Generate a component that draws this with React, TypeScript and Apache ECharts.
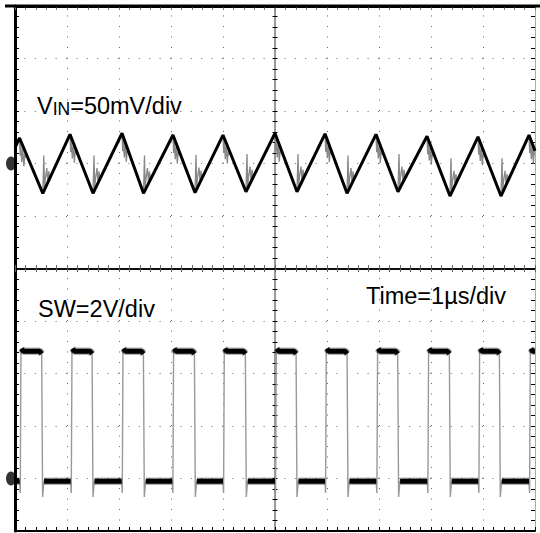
import React, { useEffect, useRef } from 'react';
import * as echarts from 'echarts';

const vinScaleMvPerDiv = 50;
const vinOffsetDiv = 2;
const swScaleVPerDiv = 2;
const swOffsetDiv = -4;

// Time in µs relative to the screen centre (trigger), 1 µs/div
// VIN ripple: peak / valley vertices (mV relative to channel ground)
const vinPeakT = [-4.913, -3.942, -2.942, -1.962, -1.0, 0.0, 0.962, 1.942, 2.923, 3.904, 4.885];
const vinPeakMv = [24.3, 27.8, 28.8, 27.1, 27.1, 28.8, 28.3, 27.8, 25.9, 25.4, 27.1];
const vinValleyT = [-4.465, -3.5, -2.529, -1.538, -0.558, 0.423, 1.385, 2.365, 3.365, 4.346];
const vinValleyMv = [-28.4, -28.4, -28.4, -27.8, -26.9, -26.9, -28.4, -26.9, -31.0, -31.0];
const vinStart = [-5, 15];
const vinEnd = [5, 12];
// switching ringing seen after each peak and each valley (offsets from the vertex)
const vinPeakRingDt = [0, 0.013, 0.025, 0.044, 0.063, 0.083, 0.102, 0.121];
const vinPeakRingMv = [0, -17, -6, -23, -10, -27, -15, -19];
const vinValleyRingDt = [0, 0.019, 0.033, 0.048, 0.077, 0.096, 0.115, 0.135, 0.154];
const vinValleyRingMv = [0, 36, 5, 14, 24, 10, 21, 13, 17];

// SW node: edge times (µs) and levels (V)
const swRiseT = [-4.891, -3.91, -2.929, -1.956, -0.981, 0.019, 0.981, 1.967, 2.948, 3.929, 4.904];
const swFallT = [-4.475, -3.506, -2.519, -1.538, -0.558, 0.417, 1.398, 2.371, 3.365, 4.327];
const swHighV = 4.85;
const swHighStartV = 4.95;
const swHighEndV = 4.75;
const swLowV = -0.1;
const swRiseDipV = -0.55;
const swFallDipV = -0.7;

const FONT = '"Liberation Sans", Arial, Helvetica, sans-serif';

const vinToDiv = (mv: number) => vinOffsetDiv + mv / vinScaleMvPerDiv;
const swToDiv = (v: number) => swOffsetDiv + v / swScaleVPerDiv;

function buildVinRamp() {
  const pts: any[] = [[vinStart[0], vinToDiv(vinStart[1])]];
  for (let i = 0; i < vinPeakT.length; i++) {
    pts.push([vinPeakT[i], vinToDiv(vinPeakMv[i])]);
    if (i < vinValleyT.length) pts.push([vinValleyT[i], vinToDiv(vinValleyMv[i])]);
  }
  pts.push([vinEnd[0], vinToDiv(vinEnd[1])]);
  return pts;
}

function buildVinRinging() {
  const pts: any[] = [];
  vinPeakT.forEach((t, i) => {
    vinPeakRingDt.forEach((dt, k) => {
      if (t + dt <= 5) pts.push([t + dt, vinToDiv(vinPeakMv[i] + vinPeakRingMv[k])]);
    });
    pts.push([t, '-']);
  });
  vinValleyT.forEach((t, i) => {
    vinValleyRingDt.forEach((dt, k) => {
      pts.push([t + dt, vinToDiv(vinValleyMv[i] + vinValleyRingMv[k])]);
    });
    pts.push([t, '-']);
  });
  return pts;
}

function buildSwEdges() {
  const pts: any[] = [[-5, swToDiv(swLowV)]];
  swRiseT.forEach((r, i) => {
    pts.push([r - 0.02, swToDiv(swLowV)], [r - 0.008, swToDiv(swRiseDipV)], [r, swToDiv(swRiseDipV)], [r + 0.006, swToDiv(swHighStartV)]);
    if (i < swFallT.length) {
      const f = swFallT[i];
      pts.push(
        [r + 0.04, swToDiv(swHighV)],
        [f - 0.04, swToDiv(swHighV)],
        [f - 0.012, swToDiv(swHighEndV)],
        [f, swToDiv(swHighEndV)],
        [f + 0.006, swToDiv(swFallDipV)],
        [f + 0.03, swToDiv(swLowV)]
      );
    } else {
      pts.push([r + 0.04, swToDiv(swHighV)], [5, swToDiv(swHighV)]);
    }
  });
  return pts;
}

function buildSwFlats() {
  const pts: any[] = [[-5, swToDiv(swLowV)], [swRiseT[0] - 0.02, swToDiv(swLowV)], [-5, '-']];
  swRiseT.forEach((r, i) => {
    if (i < swFallT.length) {
      const f = swFallT[i];
      pts.push([r + 0.015, swToDiv(swHighStartV)], [r + 0.05, swToDiv(swHighV)], [f - 0.05, swToDiv(swHighV)], [f - 0.01, swToDiv(swHighEndV)], [f, '-']);
      const next = swRiseT[i + 1];
      pts.push([f + 0.035, swToDiv(swLowV)], [next - 0.02, swToDiv(swLowV)], [next, '-']);
    } else {
      pts.push([r + 0.015, swToDiv(swHighStartV)], [r + 0.05, swToDiv(swHighV)], [5, swToDiv(swHighV)]);
    }
  });
  return pts;
}

const tickSet = (inside: boolean, len: number, color: string) => ({
  axisTick: { show: true, inside, length: len, lineStyle: { color, width: 1 } },
  minorTick: { show: true, splitNumber: 5, length: len, lineStyle: { color, width: 1 } },
});

export default function App() {
  const ref = useRef<HTMLDivElement>(null);
  useEffect(() => {
    if (!ref.current) return;
    const chart = echarts.init(ref.current, undefined, { renderer: 'svg' });
    const xBase: any = { type: 'value', min: -5, max: 5, interval: 1, axisLabel: { show: false }, gridIndex: 0 };
    const yBase: any = { type: 'value', min: -5, max: 5, interval: 1, axisLabel: { show: false }, gridIndex: 0 };
    const option: any = {
      animation: false,
      backgroundColor: '#fff',
      grid: { left: 15, top: 6, width: 520, height: 525, containLabel: false, outerBoundsMode: 'none' },
      xAxis: [
        {
          ...xBase, position: 'bottom',
          axisLine: { show: true, onZero: false, lineStyle: { color: '#000', width: 2 } },
          ...tickSet(true, 4, '#000'),
          splitLine: { show: true, lineStyle: { color: '#666', width: 1, type: [1, 9.5], dashOffset: 0.5 } },
        },
        {
          ...xBase, position: 'top',
          axisLine: { show: true, onZero: false, lineStyle: { color: '#000', width: 3 } },
          ...tickSet(true, 4, '#777'),
          splitLine: { show: false },
        },
        {
          ...xBase, position: 'bottom',
          axisLine: { show: true, onZero: true, onZeroAxisIndex: 0, lineStyle: { color: '#000', width: 1.5 } },
          ...tickSet(true, 3.5, '#666'),
          splitLine: { show: false },
        },
        {
          ...xBase, position: 'bottom',
          axisLine: { show: true, onZero: true, onZeroAxisIndex: 0, lineStyle: { color: '#000', width: 1.5 } },
          ...tickSet(false, 3.5, '#666'),
          splitLine: { show: false },
        },
      ],
      yAxis: [
        {
          ...yBase, position: 'left',
          axisLine: { show: true, onZero: false, lineStyle: { color: '#000', width: 3 } },
          ...tickSet(true, 4, '#000'),
          splitLine: { show: true, lineStyle: { color: '#666', width: 1, type: [1, 9.4], dashOffset: 0.5 } },
        },
        {
          ...yBase, position: 'right',
          axisLine: { show: true, onZero: false, lineStyle: { color: '#aaa', width: 1 } },
          ...tickSet(true, 4, '#000'),
          splitLine: { show: false },
        },
        {
          ...yBase, position: 'left',
          axisLine: { show: true, onZero: true, onZeroAxisIndex: 0, lineStyle: { color: '#999', width: 2 } },
          ...tickSet(true, 2.5, '#000'),
          splitLine: { show: false },
        },
        {
          ...yBase, position: 'left',
          axisLine: { show: true, onZero: true, onZeroAxisIndex: 0, lineStyle: { color: '#999', width: 2 } },
          ...tickSet(false, 2.5, '#000'),
          splitLine: { show: false },
        },
      ],
      graphic: [
        { type: 'line', shape: { x1: 5, y1: 6, x2: 540, y2: 6 }, style: { stroke: '#000', lineWidth: 3 }, z: 10 },
        {
          type: 'text', x: 37, y: 104.5, z: 10,
          style: {
            text: '{a|V}{b|IN}{a|=50mV/div}',
            align: 'left', verticalAlign: 'middle',
            rich: {
              a: { fontSize: 23.5, fontFamily: FONT, fill: '#000', color: '#000', verticalAlign: 'bottom', lineHeight: 26 },
              b: { fontSize: 17.5, fontFamily: FONT, fill: '#000', color: '#000', verticalAlign: 'bottom', lineHeight: 26 },
            },
          },
        },
        {
          type: 'text', x: 38, y: 308.7, z: 10,
          style: { text: 'SW=2V/div', fontSize: 23.5, fontFamily: FONT, fill: '#000', align: 'left', verticalAlign: 'middle' },
        },
        {
          type: 'text', x: 366, y: 295.5, z: 10,
          style: { text: 'Time=1µs/div', fontSize: 23.5, fontFamily: FONT, fill: '#000', align: 'left', verticalAlign: 'middle' },
        },
      ],
      series: [
        {
          name: 'VIN ringing', type: 'line', data: buildVinRinging(), showSymbol: false, symbol: 'none',
          connectNulls: false, lineStyle: { color: '#888', width: 1.3 }, z: 3,
        },
        {
          name: 'VIN', type: 'line', data: buildVinRamp(), showSymbol: false, symbol: 'none',
          lineStyle: { color: '#000', width: 3 }, z: 4,
        },
        {
          name: 'SW edges', type: 'line', data: buildSwEdges(), showSymbol: false, symbol: 'none',
          lineStyle: { color: '#999', width: 1.4 }, z: 3,
        },
        {
          name: 'SW noise', type: 'line', data: buildSwFlats(), showSymbol: false, symbol: 'none',
          connectNulls: false, lineStyle: { color: '#000', width: 7.5, opacity: 0.3, cap: 'butt' }, z: 4,
        },
        {
          name: 'SW', type: 'line', data: buildSwFlats(), showSymbol: false, symbol: 'none',
          connectNulls: false, lineStyle: { color: '#000', width: 5, cap: 'butt' }, z: 5,
        },
        {
          name: 'ground markers', type: 'scatter', clip: false,
          data: [[-5, vinOffsetDiv], [-5, swOffsetDiv]],
          symbol: 'circle', symbolSize: [10, 14], symbolOffset: [-4, 0],
          itemStyle: { color: '#000' }, z: 6,
        },
      ],
    };
    chart.setOption(option);
    return () => chart.dispose();
  }, []);
  return (
    <div
      ref={ref}
      style={{ position: 'absolute', left: 0, top: 0, width: 540, height: 533, background: '#fff' }}
    />
  );
}
